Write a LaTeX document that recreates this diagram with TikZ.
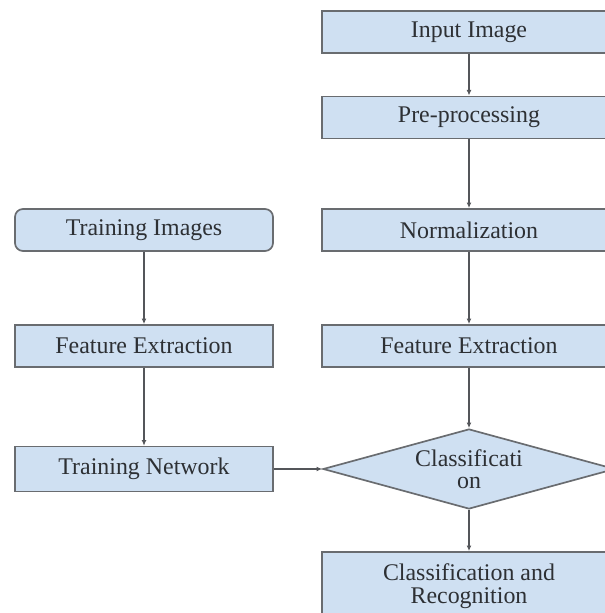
\documentclass[tikz,border=0pt]{standalone}
\usepackage{fontspec}
\setmainfont{Liberation Serif}
\usepackage{tikz}
\usetikzlibrary{arrows.meta,shapes.geometric,positioning}
\definecolor{boxblue}{RGB}{207,224,242}
\definecolor{edgegray}{RGB}{105,108,112}
\definecolor{textgray}{RGB}{45,48,52}

\tikzset{
  stepbox/.style={draw=edgegray, line width=1.2pt, fill=boxblue, text=textgray,
    minimum height=1.05cm, align=center, font=\fontsize{17}{16}\selectfont},
  flow/.style={-{Latex[length=4pt,width=3.5pt]}, draw=edgegray!80!black, line width=0.9pt}
}

\begin{document}
\begin{tikzpicture}
            \useasboundingbox (0,0) rectangle (15.125,15.325);
            \clip (0,0) rectangle (15.125,15.325);

            % Right column: test image path
            \node[stepbox, minimum width=7.35cm] (input) at (11.725,14.525) {Input Image};
            \node[stepbox, minimum width=7.35cm] (preproc) at (11.725,12.39) {Pre-processing};
            \node[stepbox, minimum width=7.35cm] (norm) at (11.725,9.575) {Normalization};
            \node[stepbox, minimum width=7.35cm] (feature) at (11.725,6.675) {Feature Extraction};

            % Decision
            \node[stepbox, diamond, aspect=3.65, inner sep=0pt, minimum width=7.3cm, minimum height=2cm] (classify) at (11.725,3.6) {Classificati\\on};

            % Result
            \node[stepbox, minimum width=7.35cm, minimum height=1.7cm] (recognition) at (11.725,0.675) {Classification and\\Recognition};

            % Left column: training path
            \node[stepbox, rounded corners=0.2cm, minimum width=6.45cm] (trainimg) at (3.6,9.575) {Training Images};
            \node[stepbox, minimum width=6.45cm] (trainfeat) at (3.6,6.675) {Feature Extraction};
            \node[stepbox, minimum width=6.45cm, minimum height=1.12cm] (trainnet) at (3.6,3.6) {Training Network};

            % Connectors
            \draw[flow] (input) -- (preproc);
            \draw[flow] (preproc) -- (norm);
            \draw[flow] (norm) -- (feature);
            \draw[flow] (feature) -- (classify);
            \draw[flow] (classify) -- (recognition);
            \draw[flow] (trainimg) -- (trainfeat);
            \draw[flow] (trainfeat) -- (trainnet);
            \draw[flow] (trainnet) -- (classify);
        \end{tikzpicture}
\end{document}
